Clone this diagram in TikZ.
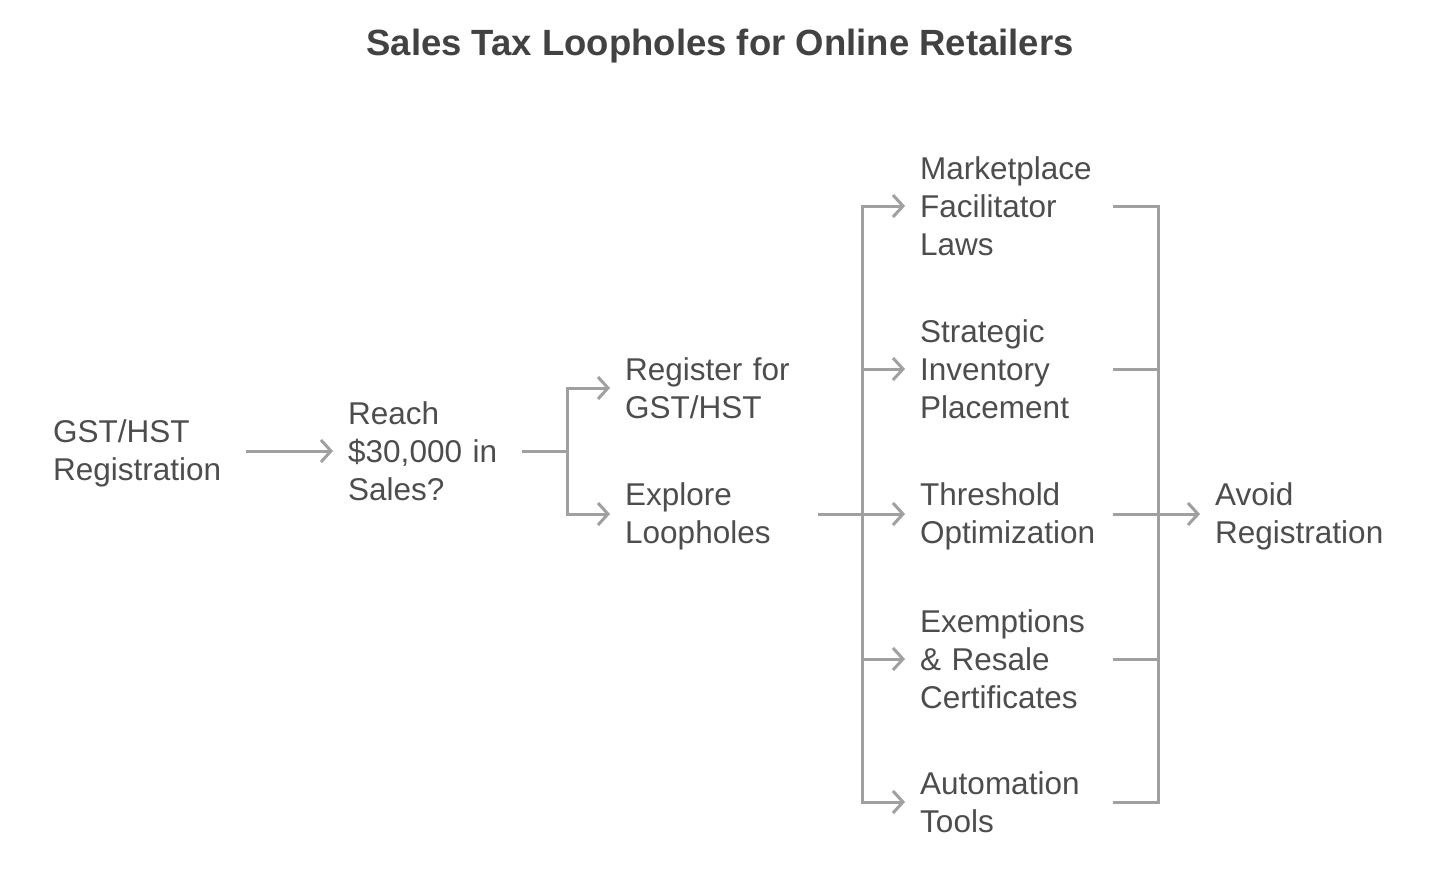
\documentclass[tikz,border=0pt]{standalone}
\usepackage{fontspec}
\setmainfont{Liberation Sans}
\usetikzlibrary{arrows.meta}
\definecolor{txt}{HTML}{4D4D4D}
\definecolor{ttl}{HTML}{424242}
\definecolor{ln}{HTML}{A0A0A0}
\newcommand\ls{\rule[-6pt]{0pt}{34pt}}
\begin{document}
\begin{tikzpicture}[x=1pt,y=-1pt,
  lbl/.style={anchor=west, inner xsep=15pt, inner ysep=0pt, text width=178pt, align=left,
    font=\fontsize{31.5}{38}\selectfont, text=txt},
  conn/.style={draw=ln, line width=3pt},
  arr/.style={conn, -{Straight Barb[length=10pt,width=22pt]}}]
\useasboundingbox[fill=white] (0,0) rectangle (1456,892);
\node[font=\bfseries\fontsize{36.5}{40}\selectfont, text=ttl] (title) at (720,46) {Sales Tax Loopholes for Online Retailers};

\node[lbl] (gst) at (38,451) {\ls GST/HST\\\ls Registration};
\node[lbl, text width=159pt] (reach) at (333,451) {\ls Reach\\\ls \$30,000 in\\\ls Sales?};
\node[lbl] (reg) at (610,388) {\ls Register for\\\ls GST/HST};
\node[lbl] (expl) at (610,514) {\ls Explore\\\ls Loopholes};
\node[lbl] (mkt) at (905,206) {\ls Marketplace\\\ls Facilitator\\\ls Laws};
\node[lbl] (inv) at (905,369) {\ls Strategic\\\ls Inventory\\\ls Placement};
\node[lbl] (thr) at (905,514) {\ls Threshold\\\ls Optimization};
\node[lbl] (exm) at (905,659) {\ls Exemptions\\\ls \& Resale\\\ls Certificates};
\node[lbl] (aut) at (905,802) {\ls Automation\\\ls Tools};
\node[lbl] (avd) at (1200,514) {\ls Avoid\\\ls Registration};

\coordinate (j1) at (567,451);
\coordinate (j2) at (862,514);
\coordinate (j3) at (1158,514);

\draw[arr] (gst.east) -- (reach.west);
\draw[conn] (reach.east) -- (j1);
\draw[arr] (j1) |- (reg.west);
\draw[arr] (j1) |- (expl.west);
\draw[conn] (expl.east) -- (j2);
\draw[arr] (j2) |- (mkt.west);
\draw[arr] (j2) |- (inv.west);
\draw[arr] (j2) -- (thr.west);
\draw[arr] (j2) |- (exm.west);
\draw[arr] (j2) |- (aut.west);
\draw[conn] (mkt.east) -| (j3);
\draw[conn] (inv.east) -| (j3);
\draw[conn] (thr.east) -- (j3);
\draw[conn] (exm.east) -| (j3);
\draw[conn] (aut.east) -| (j3);
\draw[arr] (j3) -- (avd.west);
\end{tikzpicture}
\end{document}
